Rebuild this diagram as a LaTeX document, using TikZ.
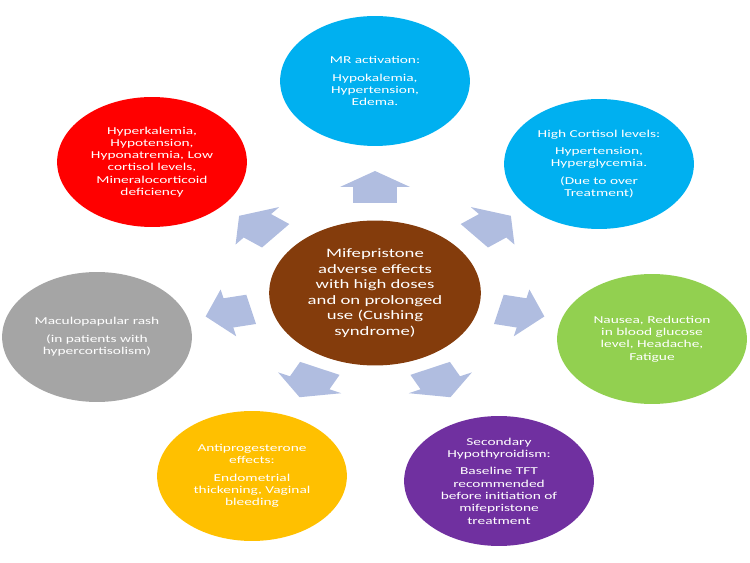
\documentclass[tikz,border=0pt]{standalone}
\usepackage{fontspec}
\setmainfont{Carlito}
\usepackage{tikz}
\usepackage{xcolor}

\definecolor{mrblue}{HTML}{00B0F0}
\definecolor{lowred}{HTML}{FF0000}
\definecolor{rashgray}{HTML}{A5A5A5}
\definecolor{nauseagreen}{HTML}{92D050}
\definecolor{progyellow}{HTML}{FFC000}
\definecolor{thyroidpurple}{HTML}{7030A0}
\definecolor{hubbrown}{HTML}{843C0C}
\definecolor{arrowblue}{HTML}{B0BDE0}

\begin{document}
\begin{tikzpicture}[x=0.02cm, y=-0.02cm,
    bubble/.style={circle, inner sep=0pt, minimum size=2.6cm, xscale=1.46,
        align=center, text=white, font=\fontsize{6}{7}\selectfont},
    blockarrow/.pic={\fill[arrowblue] (-16,-15) -- (0,-15) -- (0,-24) -- (16,0)
        -- (0,24) -- (0,15) -- (-16,15) -- cycle;}]

    \useasboundingbox (0,0) rectangle (750,563);

    % Centre
    \node[bubble, fill=hubbrown, minimum size=2.9cm, font=\fontsize{7.3}{8.8}\selectfont] (hub) at (375,293)
        {Mifepristone\\ adverse effects\\ with high doses\\ and on prolonged\\ use (Cushing\\ syndrome)};

    % Effects
    \node[bubble, fill=mrblue] (mr) at (375,81)
        {MR activation:\\[3pt] Hypokalemia,\\ Hypertension,\\ Edema.};
    \node[bubble, fill=mrblue] (cortisol) at (599,164)
        {High Cortisol levels:\\[3pt] Hypertension,\\ Hyperglycemia.\\[3pt] (Due to over\\ Treatment)};
    \node[bubble, fill=nauseagreen] (nausea) at (652,339)
        {Nausea, Reduction\\ in blood glucose\\ level, Headache,\\ Fatigue};
    \node[bubble, fill=thyroidpurple] (thyroid) at (499,481)
        {Secondary\\ Hypothyroidism:\\[3pt] Baseline TFT\\ recommended\\ before initiation of\\ mifepristone\\ treatment};
    \node[bubble, fill=progyellow] (antiprog) at (252,476)
        {Antiprogesterone\\ effects:\\[3pt] Endometrial\\ thickening, Vaginal\\ bleeding};
    \node[bubble, fill=rashgray] (rash) at (97,337)
        {Maculopapular rash\\[3pt] (in patients with\\ hypercortisolism)};
    \node[bubble, fill=lowred] (low) at (152,162)
        {Hyperkalemia,\\ Hypotension,\\ Hyponatremia, Low\\ cortisol levels,\\ Mineralocorticoid\\ deficiency};

    % Arrows
    \pic[xscale=1.46, rotate=90] at (375,187) {blockarrow};
    \pic[xscale=1.46, rotate=38.57] at (492.6,225.8) {blockarrow};
    \pic[xscale=1.46, rotate=-12.86] at (521.6,312.9) {blockarrow};
    \pic[xscale=1.46, rotate=-64.29] at (440.3,382.8) {blockarrow};
    \pic[xscale=1.46, rotate=-115.71] at (309.7,382.8) {blockarrow};
    \pic[xscale=1.46, rotate=192.86] at (228.4,312.9) {blockarrow};
    \pic[xscale=1.46, rotate=141.43] at (257.4,225.8) {blockarrow};

\end{tikzpicture}
\end{document}
